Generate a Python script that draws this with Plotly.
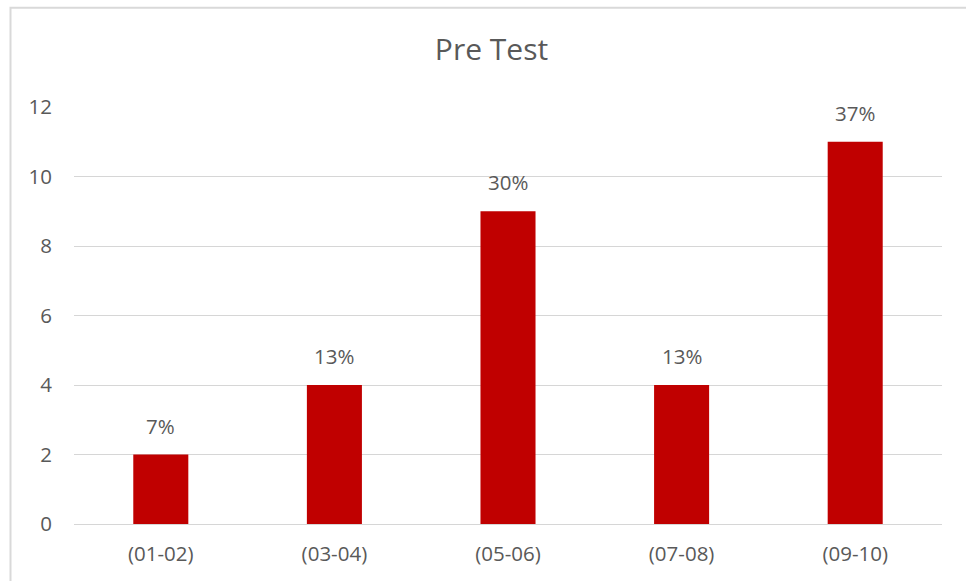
import plotly.graph_objects as go

categories = ["(01-02)", "(03-04)", "(05-06)", "(07-08)", "(09-10)"]
counts = [2, 4, 9, 4, 11]
pct_labels = ["7%", "13%", "30%", "13%", "37%"]
y_ticks = [0, 2, 4, 6, 8, 10, 12]

W, H = 966, 581
L, R, T, B = 74, 24, 106.7, 57.3
pw = W - L - R
ph = H - T - B

FONT = "Open Sans"
GRAY = "#595959"

fig = go.Figure()
fig.add_trace(go.Bar(
    x=categories, y=counts,
    marker=dict(color="#C00000", line=dict(width=0)),
    width=0.317,
    hoverinfo="skip",
))

for c, v, t in zip(categories, counts, pct_labels):
    fig.add_annotation(x=c, y=v, text=t, showarrow=False, yanchor="bottom",
                       yshift=13, font=dict(family=FONT, size=20.5, color=GRAY))

# chart frame (cropped at right and bottom)
def px_to_paper_x(px):
    return (px - L) / pw

def px_to_paper_y(py):
    return (H - B - py) / ph

fig.add_shape(type="rect", xref="paper", yref="paper",
              x0=px_to_paper_x(10.5), x1=px_to_paper_x(1000),
              y0=px_to_paper_y(620), y1=px_to_paper_y(7.5),
              line=dict(color="#D9D9D9", width=2), fillcolor="rgba(0,0,0,0)",
              layer="below")

fig.update_layout(
    width=W, height=H,
    margin=dict(l=L, r=R, t=T, b=B),
    paper_bgcolor="white", plot_bgcolor="white",
    showlegend=False,
    title=dict(text="Pre Test", x=491.5 / W, xref="container", xanchor="center",
               y=1 - 49 / H, yref="container", yanchor="middle",
               font=dict(family=FONT, size=30, color=GRAY)),
    xaxis=dict(showgrid=False, showline=False, zeroline=False,
               tickfont=dict(family=FONT, size=20.5, color=GRAY),
               ticks="", ticklabelstandoff=15, fixedrange=True),
    yaxis=dict(range=[0, 12], tickvals=y_ticks, showgrid=True, gridcolor="#D6D6D6",
               gridwidth=1, zeroline=True, zerolinecolor="#D6D6D6", zerolinewidth=1,
               showline=False, ticks="", ticklabelstandoff=21,
               tickfont=dict(family=FONT, size=20.5, color=GRAY), fixedrange=True),
)

fig.write_html("out.html")
